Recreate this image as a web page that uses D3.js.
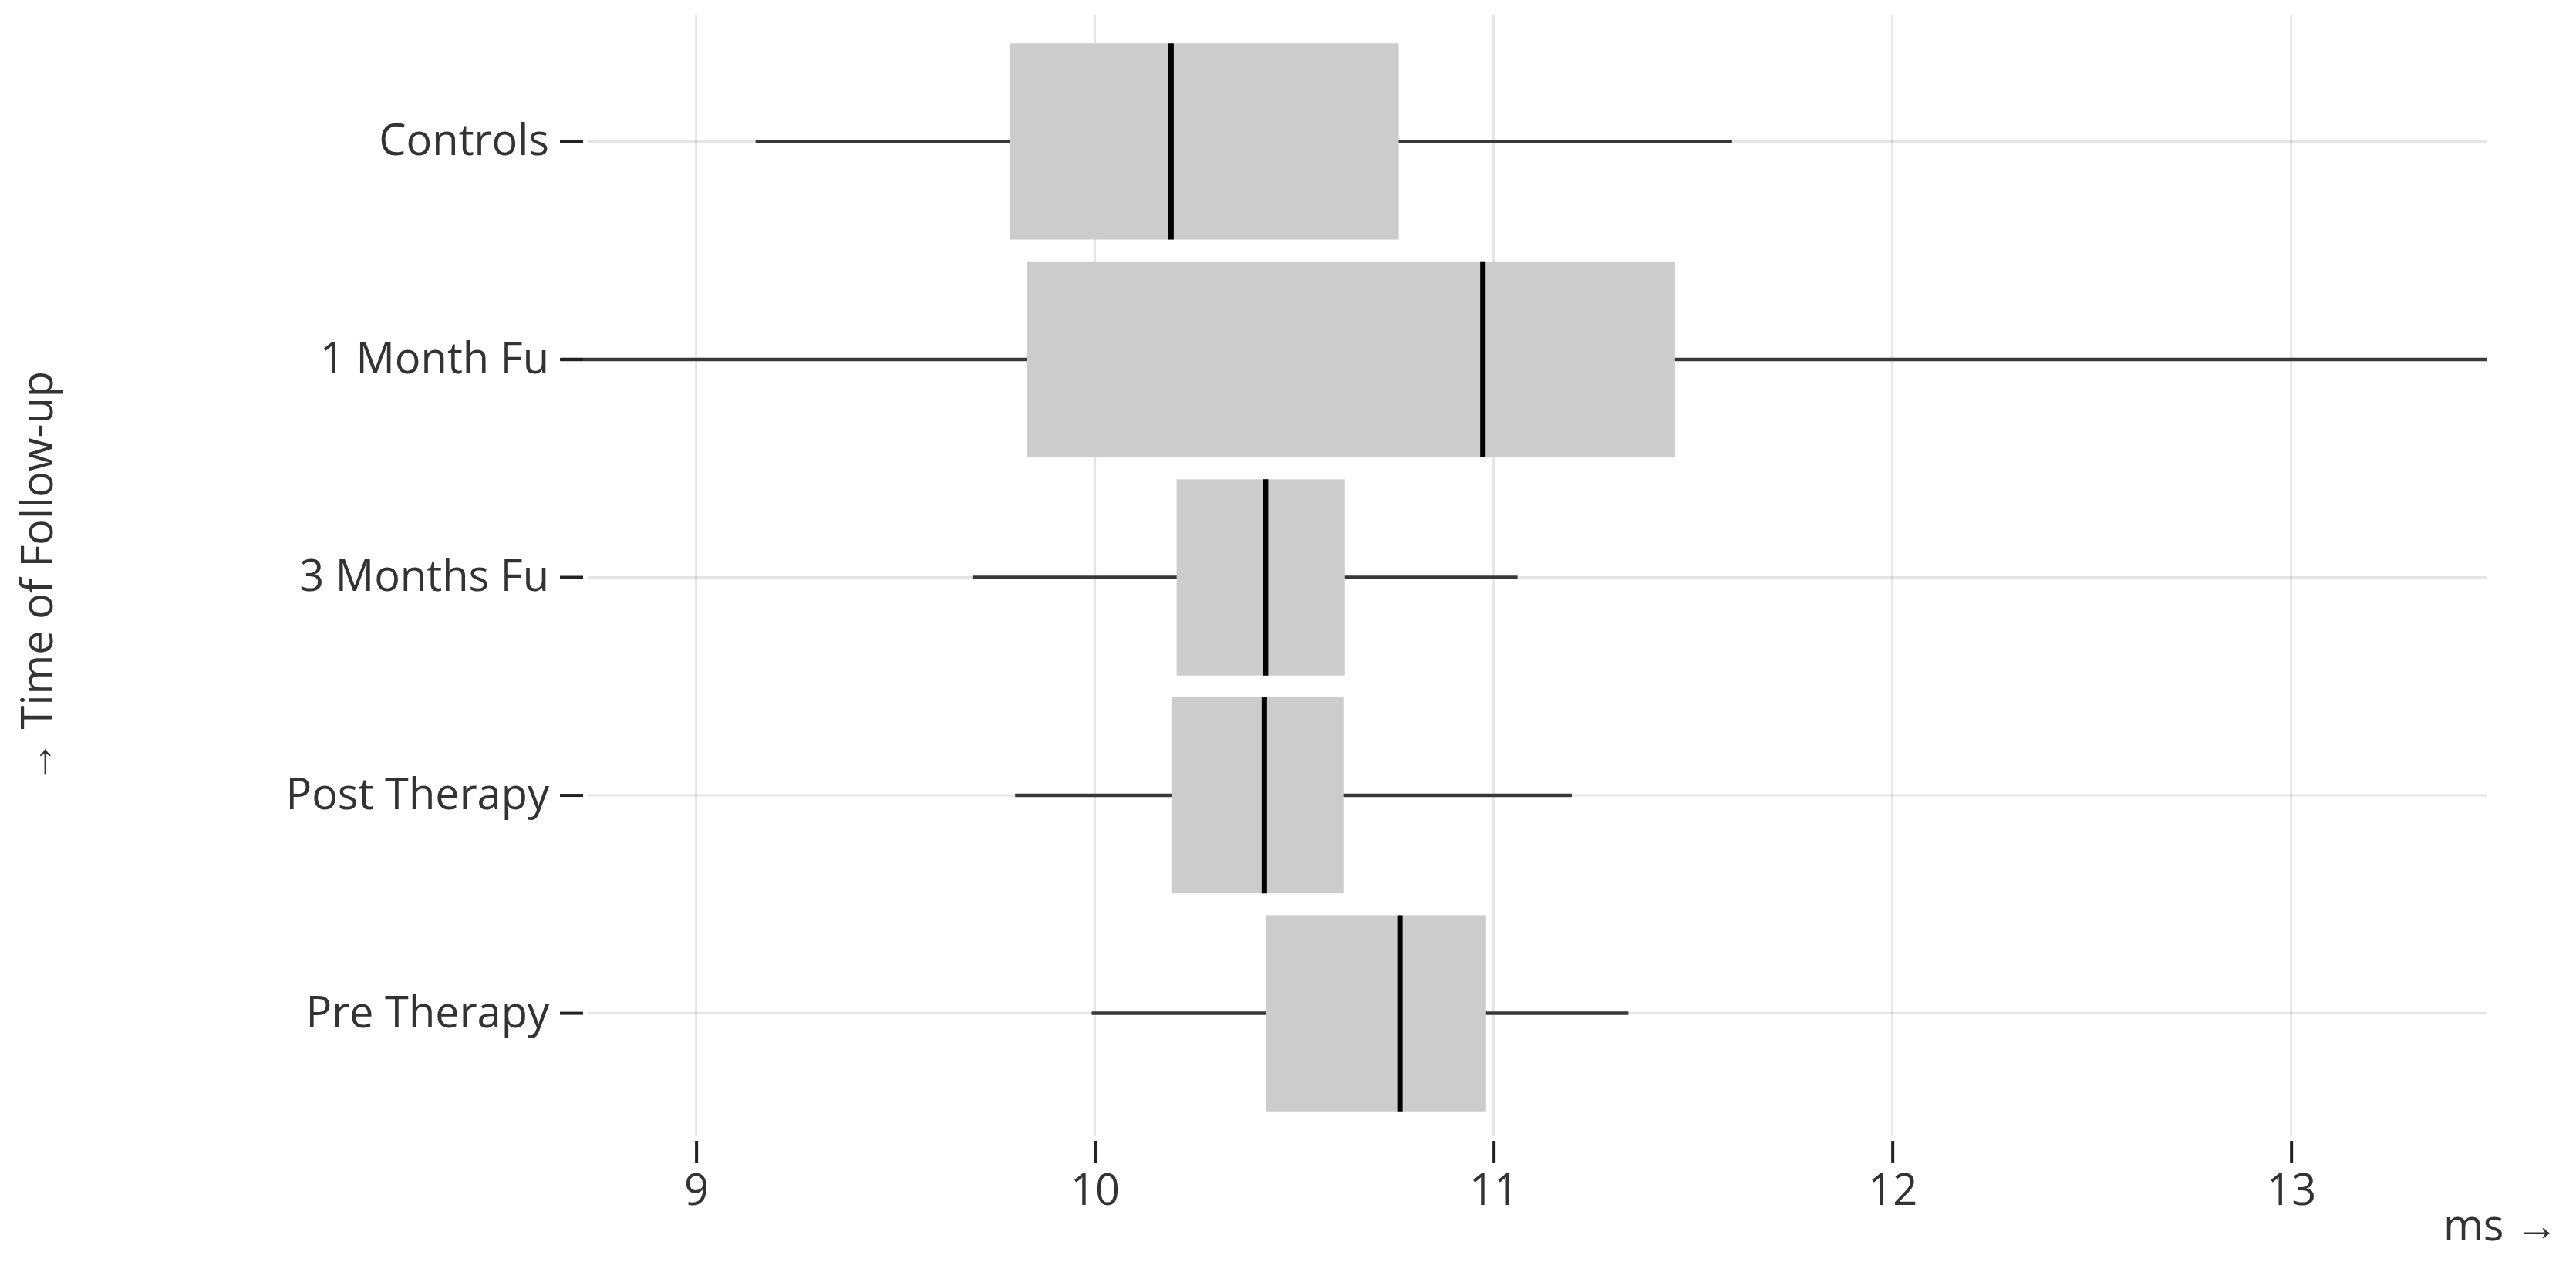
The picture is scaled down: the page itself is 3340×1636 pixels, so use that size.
<!DOCTYPE html>
<html>
<head>
<meta charset="utf-8">
<script src="https://cdn.jsdelivr.net/npm/d3@7"></script>
<style>
  body { margin: 0; background: white; }
  text { font-family: 'Open Sans', 'Noto Sans', sans-serif; fill: #333; }
</style>
</head>
<body>
<script>
let categories = ['Controls', '1 Month Fu', '3 Months Fu', 'Post Therapy', 'Pre Therapy']
let whiskerLo = [9.149, 8.66, 9.693, 9.80, 9.992]
let q1 = [9.786, 9.829, 10.205, 10.192, 10.43]
let median = [10.191, 10.973, 10.428, 10.425, 10.765]
let q3 = [10.762, 11.455, 10.627, 10.623, 10.981]
let whiskerHi = [11.598, 13.49, 11.06, 11.196, 11.338]
let xTicks = [9, 10, 11, 12, 13]

let width = 3340
let height = 1636
let margin = { top: 28, bottom: 167, left: 763, right: 116 }
let fontSize = 56

let rows = categories.map((c, i) => ({
    name: c, lo: whiskerLo[i], q1: q1[i], med: median[i], q3: q3[i], hi: whiskerHi[i]
}))

let x = d3.scaleLinear()
    .domain([8.73, 13.49])
    .range([margin.left, width - margin.right])

let y = d3.scaleBand()
    .domain(categories)
    .range([margin.top, height - margin.bottom])
    .paddingInner(0.1)
    .paddingOuter(0.1)

let svg = d3.select('body')
    .append('svg')
    .attr('width', width)
    .attr('height', height)
    .style('font-size', fontSize + 'px')

//grid
let gridTop = margin.top - 8
let gridBottom = height - margin.bottom + 4

svg.append('g')
    .selectAll('line')
    .data(xTicks)
    .enter()
    .append('line')
    .attr('x1', d => x(d))
    .attr('x2', d => x(d))
    .attr('y1', gridTop)
    .attr('y2', gridBottom)
    .attr('stroke', '#000')
    .attr('stroke-opacity', 0.1)
    .attr('stroke-width', 3)

svg.append('g')
    .selectAll('line')
    .data(categories)
    .enter()
    .append('line')
    .attr('x1', x.range()[0])
    .attr('x2', x.range()[1])
    .attr('y1', d => y(d) + y.bandwidth() / 2)
    .attr('y2', d => y(d) + y.bandwidth() / 2)
    .attr('stroke', '#000')
    .attr('stroke-opacity', 0.1)
    .attr('stroke-width', 3)

//whiskers, boxes, medians
let box = svg.append('g')
    .selectAll('g')
    .data(rows)
    .enter()
    .append('g')

box.append('line')
    .attr('x1', d => x(d.lo))
    .attr('x2', d => x(d.hi))
    .attr('y1', d => y(d.name) + y.bandwidth() / 2)
    .attr('y2', d => y(d.name) + y.bandwidth() / 2)
    .attr('stroke', '#383838')
    .attr('stroke-width', 4.5)

box.append('rect')
    .attr('x', d => x(d.q1))
    .attr('width', d => x(d.q3) - x(d.q1))
    .attr('y', d => y(d.name))
    .attr('height', y.bandwidth())
    .attr('fill', '#cccccc')

box.append('line')
    .attr('x1', d => x(d.med))
    .attr('x2', d => x(d.med))
    .attr('y1', d => y(d.name))
    .attr('y2', d => y(d.name) + y.bandwidth())
    .attr('stroke', '#000')
    .attr('stroke-width', 7)

//x axis
let xAxis = svg.append('g')
    .attr('transform', 'translate(0,' + (gridBottom + 6) + ')')
    .call(d3.axisBottom(x).tickValues(xTicks).tickFormat(d3.format('d'))
        .tickSize(29).tickPadding(14).tickSizeOuter(0))

xAxis.select('.domain').remove()
xAxis.selectAll('.tick line').attr('stroke', '#222').attr('stroke-width', 4)
xAxis.selectAll('.tick text').attr('font-size', fontSize).attr('font-family', null).attr('fill', '#333')

//y axis
let yAxis = svg.append('g')
    .attr('transform', 'translate(' + (margin.left - 7) + ',0)')
    .call(d3.axisLeft(y).tickSize(30).tickPadding(14).tickSizeOuter(0))

yAxis.select('.domain').remove()
yAxis.selectAll('.tick line').attr('stroke', '#222').attr('stroke-width', 4)
yAxis.selectAll('.tick text').attr('font-size', fontSize).attr('font-family', null).attr('fill', '#333')

//axis labels
svg.append('text')
    .attr('x', width - 23)
    .attr('y', 1608)
    .attr('text-anchor', 'end')
    .text('ms →')

svg.append('text')
    .attr('transform', 'translate(68,' + ((margin.top + height - margin.bottom) / 2) + ') rotate(-90)')
    .attr('text-anchor', 'middle')
    .text('→ Time of Follow-up')
</script>
</body>
</html>
